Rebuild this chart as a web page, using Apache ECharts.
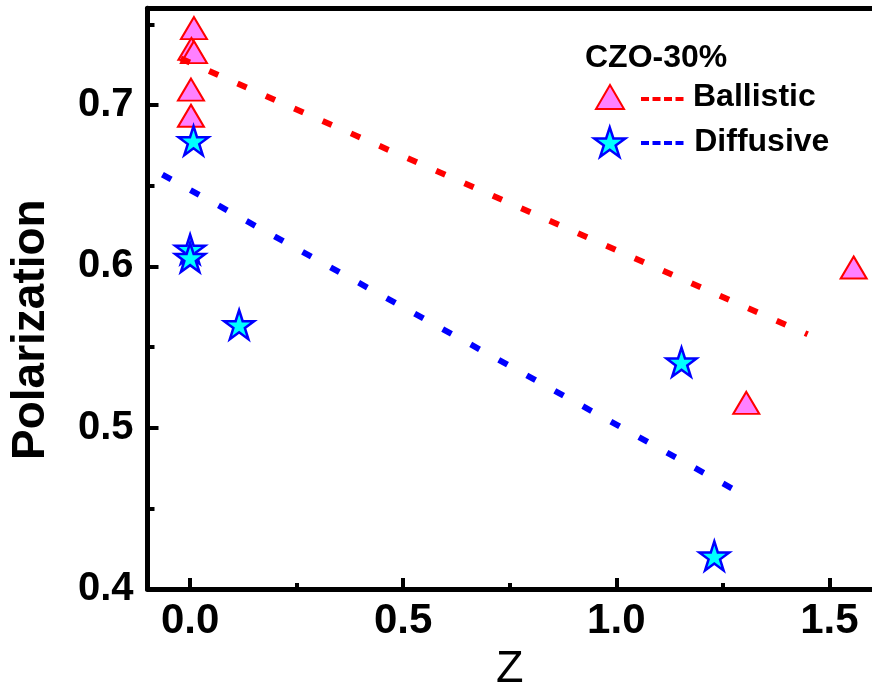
<!DOCTYPE html>
<html>
<head>
<meta charset="utf-8">
<script src="https://cdn.jsdelivr.net/npm/echarts@6/dist/echarts.min.js"></script>
<style>
html,body{margin:0;padding:0;background:#fff;}
#c{width:872px;height:697px;}
</style>
</head>
<body>
<div id="c"></div>
<script>
// ---- data ----
var ballisticZ = [0.009, 0.003, 0.009, 0.002, 0.002, 1.305, 1.557];
var ballisticP = [0.7477, 0.7348, 0.7328, 0.7096, 0.6934, 0.5154, 0.5993];
var diffusiveZ = [0.008, 0.000, 0.000, 0.115, 1.153, 1.230];
var diffusiveP = [0.6779, 0.6107, 0.6055, 0.5639, 0.5407, 0.4205];
var ballisticFitZ = [-0.022, 1.449];
var ballisticFitP = [0.7289, 0.5579];
var diffusiveFitZ = [-0.065, 1.274];
var diffusiveFitP = [0.6569, 0.462];
var xMajorTicks = [0, 0.5, 1.0, 1.5];
var xMinorTicks = [0.25, 0.75, 1.25];
var yMajorTicks = [0.4, 0.5, 0.6, 0.7];
var yMinorTicks = [0.45, 0.55, 0.65, 0.75];
var seriesNames = ['Ballistic', 'Diffusive'];
var legendTitle = 'CZO-30%';

function pairs(xs, ys) { return xs.map(function (x, i) { return [x, ys[i]]; }); }

var STAR = 'path://M50,0 L61.2,34.5 L97.6,34.5 L68.2,55.9 L79.4,90.5 L50,69.1 L20.6,90.5 L31.8,55.9 L2.4,34.5 L38.8,34.5 Z';
var FONT = '"Liberation Sans", Arial, Helvetica, sans-serif';

var chart = echarts.init(document.getElementById('c'), null, {renderer: 'canvas'});
var xMin = -0.1, xMax = 1.6, yMin = 0.4, yMax = 0.76;

var legendText = {
  rich: {
    g: {width: 64, height: 36},
    n: {fontFamily: FONT, fontSize: 32, fontWeight: 'bold', color: '#000', lineHeight: 36}
  }
};
function legendFmt(n) { return '{g|}{n|' + n + '}'; }

chart.setOption({
  animation: false,
  backgroundColor: '#fff',
  title: {
    text: legendTitle, left: 585, top: 42, padding: 0,
    textStyle: {fontFamily: FONT, fontSize: 32, fontWeight: 'bold', color: '#000'}
  },
  grid: {left: 147.5, right: -3, top: 8.3, bottom: 102, containLabel: false},
  legend: [
    {
      left: 595, top: 81, padding: 0, itemWidth: 28, itemHeight: 24,
      data: [{name: seriesNames[0], icon: 'triangle', itemStyle: {color: '#ff80ff', borderColor: '#ff0000', borderWidth: 2}}],
      formatter: legendFmt, textStyle: legendText
    },
    {
      left: 593, top: 126, padding: 0, itemWidth: 31, itemHeight: 30,
      data: [{name: seriesNames[1], icon: STAR, itemStyle: {color: '#00ffff', borderColor: '#0000ff', borderWidth: 2.5}}],
      formatter: legendFmt, textStyle: legendText
    }
  ],
  graphic: [
    {type: 'line', shape: {x1: 641, y1: 99, x2: 685, y2: 99}, style: {stroke: '#ff0000', lineWidth: 4, lineDash: [8, 3.5]}},
    {type: 'line', shape: {x1: 641, y1: 143, x2: 685, y2: 143}, style: {stroke: '#0000ff', lineWidth: 4, lineDash: [8, 3.5]}}
  ],
  xAxis: [
    {
      type: 'value', min: xMin, max: xMax, position: 'bottom',
      name: 'Z', nameLocation: 'middle', nameGap: 58,
      nameTextStyle: {fontFamily: FONT, fontSize: 45, color: '#000'},
      axisLine: {show: true, onZero: false, lineStyle: {color: '#000', width: 5}},
      axisTick: {show: true, inside: true, length: 11, customValues: xMajorTicks, lineStyle: {color: '#000', width: 4}},
      axisLabel: {show: true, customValues: xMajorTicks, margin: 11, fontFamily: FONT, fontSize: 42, fontWeight: 'bold', color: '#000',
        formatter: function (v) { return v.toFixed(1); }},
      splitLine: {show: false}
    },
    {
      type: 'value', min: xMin, max: xMax, position: 'bottom',
      axisLine: {show: false, onZero: false},
      axisTick: {show: true, inside: true, length: 6, customValues: xMinorTicks, lineStyle: {color: '#000', width: 4}},
      axisLabel: {show: false}, splitLine: {show: false}
    },
    {
      type: 'value', min: xMin, max: xMax, position: 'top',
      axisLine: {show: true, onZero: false, lineStyle: {color: '#000', width: 5}},
      axisTick: {show: false}, axisLabel: {show: false}, splitLine: {show: false}
    }
  ],
  yAxis: [
    {
      type: 'value', min: yMin, max: yMax, position: 'left',
      name: 'Polarization', nameLocation: 'middle', nameGap: 93, nameRotate: 90,
      nameTextStyle: {fontFamily: FONT, fontSize: 46, fontWeight: 'bold', color: '#000', padding: [0, 62, 0, 0]},
      axisLine: {show: true, onZero: false, lineStyle: {color: '#000', width: 5}},
      axisTick: {show: true, inside: true, length: 11, customValues: yMajorTicks, lineStyle: {color: '#000', width: 4}},
      axisLabel: {show: true, customValues: yMajorTicks, margin: 14, fontFamily: FONT, fontSize: 40, fontWeight: 'bold', color: '#000',
        formatter: function (v) { return v.toFixed(1); }},
      splitLine: {show: false}
    },
    {
      type: 'value', min: yMin, max: yMax, position: 'left',
      axisLine: {show: false, onZero: false},
      axisTick: {show: true, inside: true, length: 7, customValues: yMinorTicks, lineStyle: {color: '#000', width: 4}},
      axisLabel: {show: false}, splitLine: {show: false}
    }
  ],
  series: [
    {
      name: seriesNames[0], type: 'scatter', xAxisIndex: 0, yAxisIndex: 0,
      symbol: 'triangle', symbolSize: [26, 22],
      itemStyle: {color: '#ff80ff', borderColor: '#ff0000', borderWidth: 2, opacity: 1},
      data: pairs(ballisticZ, ballisticP), z: 3
    },
    {
      name: seriesNames[1], type: 'scatter', xAxisIndex: 0, yAxisIndex: 0,
      symbol: STAR, symbolSize: [30, 29], symbolKeepAspect: false,
      itemStyle: {color: '#00ffff', borderColor: '#0000ff', borderWidth: 2.5, opacity: 1},
      data: pairs(diffusiveZ, diffusiveP), z: 3
    },
    {
      name: 'BallisticFit', type: 'line', xAxisIndex: 0, yAxisIndex: 0,
      showSymbol: false, symbol: 'none', silent: true,
      lineStyle: {color: '#ff0000', width: 6, type: [10, 21], cap: 'butt'},
      data: pairs(ballisticFitZ, ballisticFitP), z: 4
    },
    {
      name: 'DiffusiveFit', type: 'line', xAxisIndex: 0, yAxisIndex: 0,
      showSymbol: false, symbol: 'none', silent: true,
      lineStyle: {color: '#0000ff', width: 6, type: [10, 22], cap: 'butt'},
      data: pairs(diffusiveFitZ, diffusiveFitP), z: 4
    }
  ]
});
</script>
</body>
</html>
